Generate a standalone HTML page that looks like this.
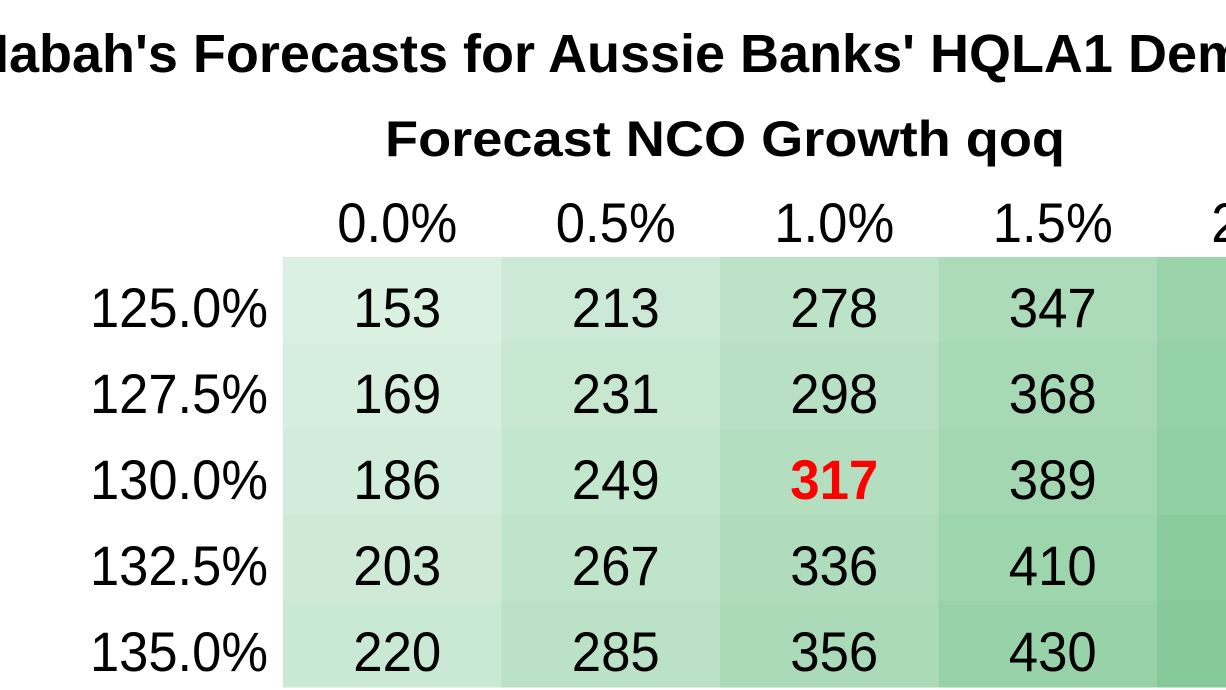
<!DOCTYPE html>
<html><head><meta charset="utf-8"><style>
html,body{margin:0;padding:0;background:#fff;width:1226px;height:690px;overflow:hidden}
svg{display:block}
</style></head><body>
<svg id="chart" width="1226" height="690" font-family="'Liberation Sans', sans-serif">
<text x="-30" y="72" font-size="54" font-weight="bold" textLength="1275" lengthAdjust="spacingAndGlyphs">Nabah's Forecasts for Aussie Banks' HQLA1 Dem</text>
<text x="725" y="156" font-size="50" font-weight="bold" text-anchor="middle" textLength="680" lengthAdjust="spacingAndGlyphs">Forecast NCO Growth qoq</text>
<g id="cells"></g>
</svg>
<script>
const colLabels = ["0.0%","0.5%","1.0%","1.5%","2.0%"];
const rowLabels = ["125.0%","127.5%","130.0%","132.5%","135.0%"];
const col0 = [153,169,186,203,220];
const col1 = [213,231,249,267,285];
const col2 = [278,298,317,336,356];
const col3 = [347,368,389,410,430];
const col4 = [421,443,467,490,512];
const highlight = [2,2];

const cols = [col0,col1,col2,col3,col4];
const NS = "http://www.w3.org/2000/svg";
const svg = document.getElementById('cells');
const x0 = 283, cw = 218.5, y0 = 257, rh = 86;
function xPos(c){ return x0 + c*cw; }
function yPos(r){ return y0 + r*rh; }
function color(v){
  const t = Math.max(0, Math.min(1, (v-150)/(510-150)));
  const a=[219,240,226], b=[133,202,152];
  return 'rgb('+a.map((q,i)=>Math.round(q+(b[i]-q)*t)).join(',')+')';
}
function mk(tag, attrs){ const e=document.createElementNS(NS,tag); for(const k in attrs) e.setAttribute(k,attrs[k]); return e; }
colLabels.forEach((l,c)=>{
  const t = mk('text',{x:xPos(c)+cw/2+5-60,y:242,'font-size':56,textLength:120,lengthAdjust:'spacingAndGlyphs'});
  
  
  t.textContent=l; svg.appendChild(t);
});
rowLabels.forEach((l,r)=>{
  const t = mk('text',{x:90,y:yPos(r)+rh/2+27,'font-size':56,textLength:178,lengthAdjust:'spacingAndGlyphs'});
  
  
  t.textContent=l; svg.appendChild(t);
});
cols.forEach((vals,c)=>{
  vals.forEach((v,r)=>{
    const rect = mk('rect',{x:xPos(c),y:yPos(r),width:cw+0.5,height:rh+0.5,fill:color(v)});
    
    
    svg.appendChild(rect);
    const hl = (c===highlight[0] && r===highlight[1]);
    const t = mk('text',{x:xPos(c)+cw/2+5-44,y:yPos(r)+rh/2+27,'font-size':56,textLength:88,lengthAdjust:'spacingAndGlyphs',fill:hl?'#ff0000':'#000','font-weight':hl?'bold':'normal'});
    
    
    t.textContent=v; svg.appendChild(t);
  });
});
</script>
</body></html>
